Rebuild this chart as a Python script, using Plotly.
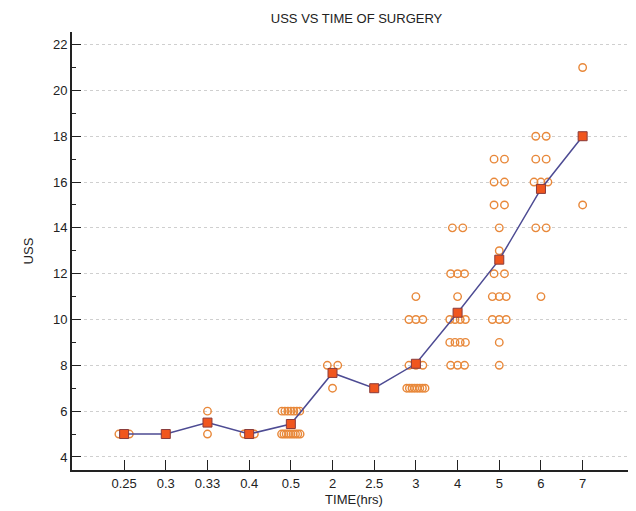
import plotly.graph_objects as go

categories = ["0.25", "0.3", "0.33", "0.4", "0.5", "2", "2.5", "3", "4", "5", "6", "7"]

# USS observations per time category (value, count)
obs = {
    "0.25": [(5, 2)],
    "0.3": [(5, 1)],
    "0.33": [(6, 1), (5, 1)],
    "0.4": [(5, 2)],
    "0.5": [(6, 7), (5, 9)],
    "2": [(8, 2), (7, 1)],
    "2.5": [(7, 1)],
    "3": [(11, 1), (10, 3), (8, 3), (7, 8)],
    "4": [(14, 2), (12, 3), (11, 1), (10, 4), (9, 4), (8, 3)],
    "5": [(17, 2), (16, 2), (15, 2), (14, 1), (13, 1), (12, 2), (11, 3), (10, 3), (9, 1), (8, 1)],
    "6": [(18, 2), (17, 2), (16, 3), (14, 2), (11, 1)],
    "7": [(21, 1), (18, 1), (15, 1)],
}

# means per category
means = []
for c in categories:
    tot = sum(v * n for v, n in obs[c])
    cnt = sum(n for v, n in obs[c])
    means.append(tot / cnt)

# dot-plot placement: side-by-side within a fixed width
W = 0.5
px, py = [], []
for i, c in enumerate(categories):
    for v, n in obs[c]:
        for k in range(n):
            px.append(i + (k + 0.5) * W / n - W / 2)
            py.append(v)

fig = go.Figure()
fig.add_trace(go.Scatter(
    x=px, y=py, mode="markers",
    marker=dict(symbol="circle-open", size=7.5, color="#E8883A", line=dict(width=1.4)),
    hoverinfo="skip", showlegend=False,
))
fig.add_trace(go.Scatter(
    x=list(range(len(categories))), y=means, mode="lines+markers",
    line=dict(color="#4D4B93", width=1.5),
    marker=dict(symbol="square", size=9, color="#F0561E", line=dict(color="#8A3B3B", width=1)),
    showlegend=False,
))

fig.update_layout(
    width=628, height=503,
    margin=dict(l=64, r=0, t=24, b=41),
    paper_bgcolor="white", plot_bgcolor="white",
    font=dict(family="Liberation Sans, Arial, sans-serif", size=13, color="#222"),
    title=dict(text="USS VS TIME OF SURGERY", x=0.555, xanchor="center", y=0.98, yanchor="middle",
               font=dict(size=13, color="#222")),
    xaxis=dict(
        tickmode="array", tickvals=list(range(len(categories))), ticktext=categories,
        range=[-1.25, 12.28], showgrid=False, zeroline=False,
        showline=True, linecolor="#222", linewidth=2,
        ticks="inside", ticklen=10, tickcolor="#222", tickwidth=1,
        title=dict(text="TIME(hrs)", standoff=5, font=dict(size=13)),
    ),
    yaxis=dict(
        range=[3.43, 22.55], tickmode="array", tickvals=list(range(4, 23, 2)),
        showgrid=True, gridcolor="#cfcfcf", griddash="dot", gridwidth=1, zeroline=False,
        showline=True, linecolor="#222", linewidth=2,
        ticks="inside", ticklen=9, tickcolor="#222", tickwidth=1,
        minor=dict(tickvals=list(range(5, 23, 2)), ticks="inside", ticklen=4, tickcolor="#222", showgrid=False),
        title=dict(text="USS", standoff=16, font=dict(size=13)),
    ),
)

fig.write_html("out.html")
